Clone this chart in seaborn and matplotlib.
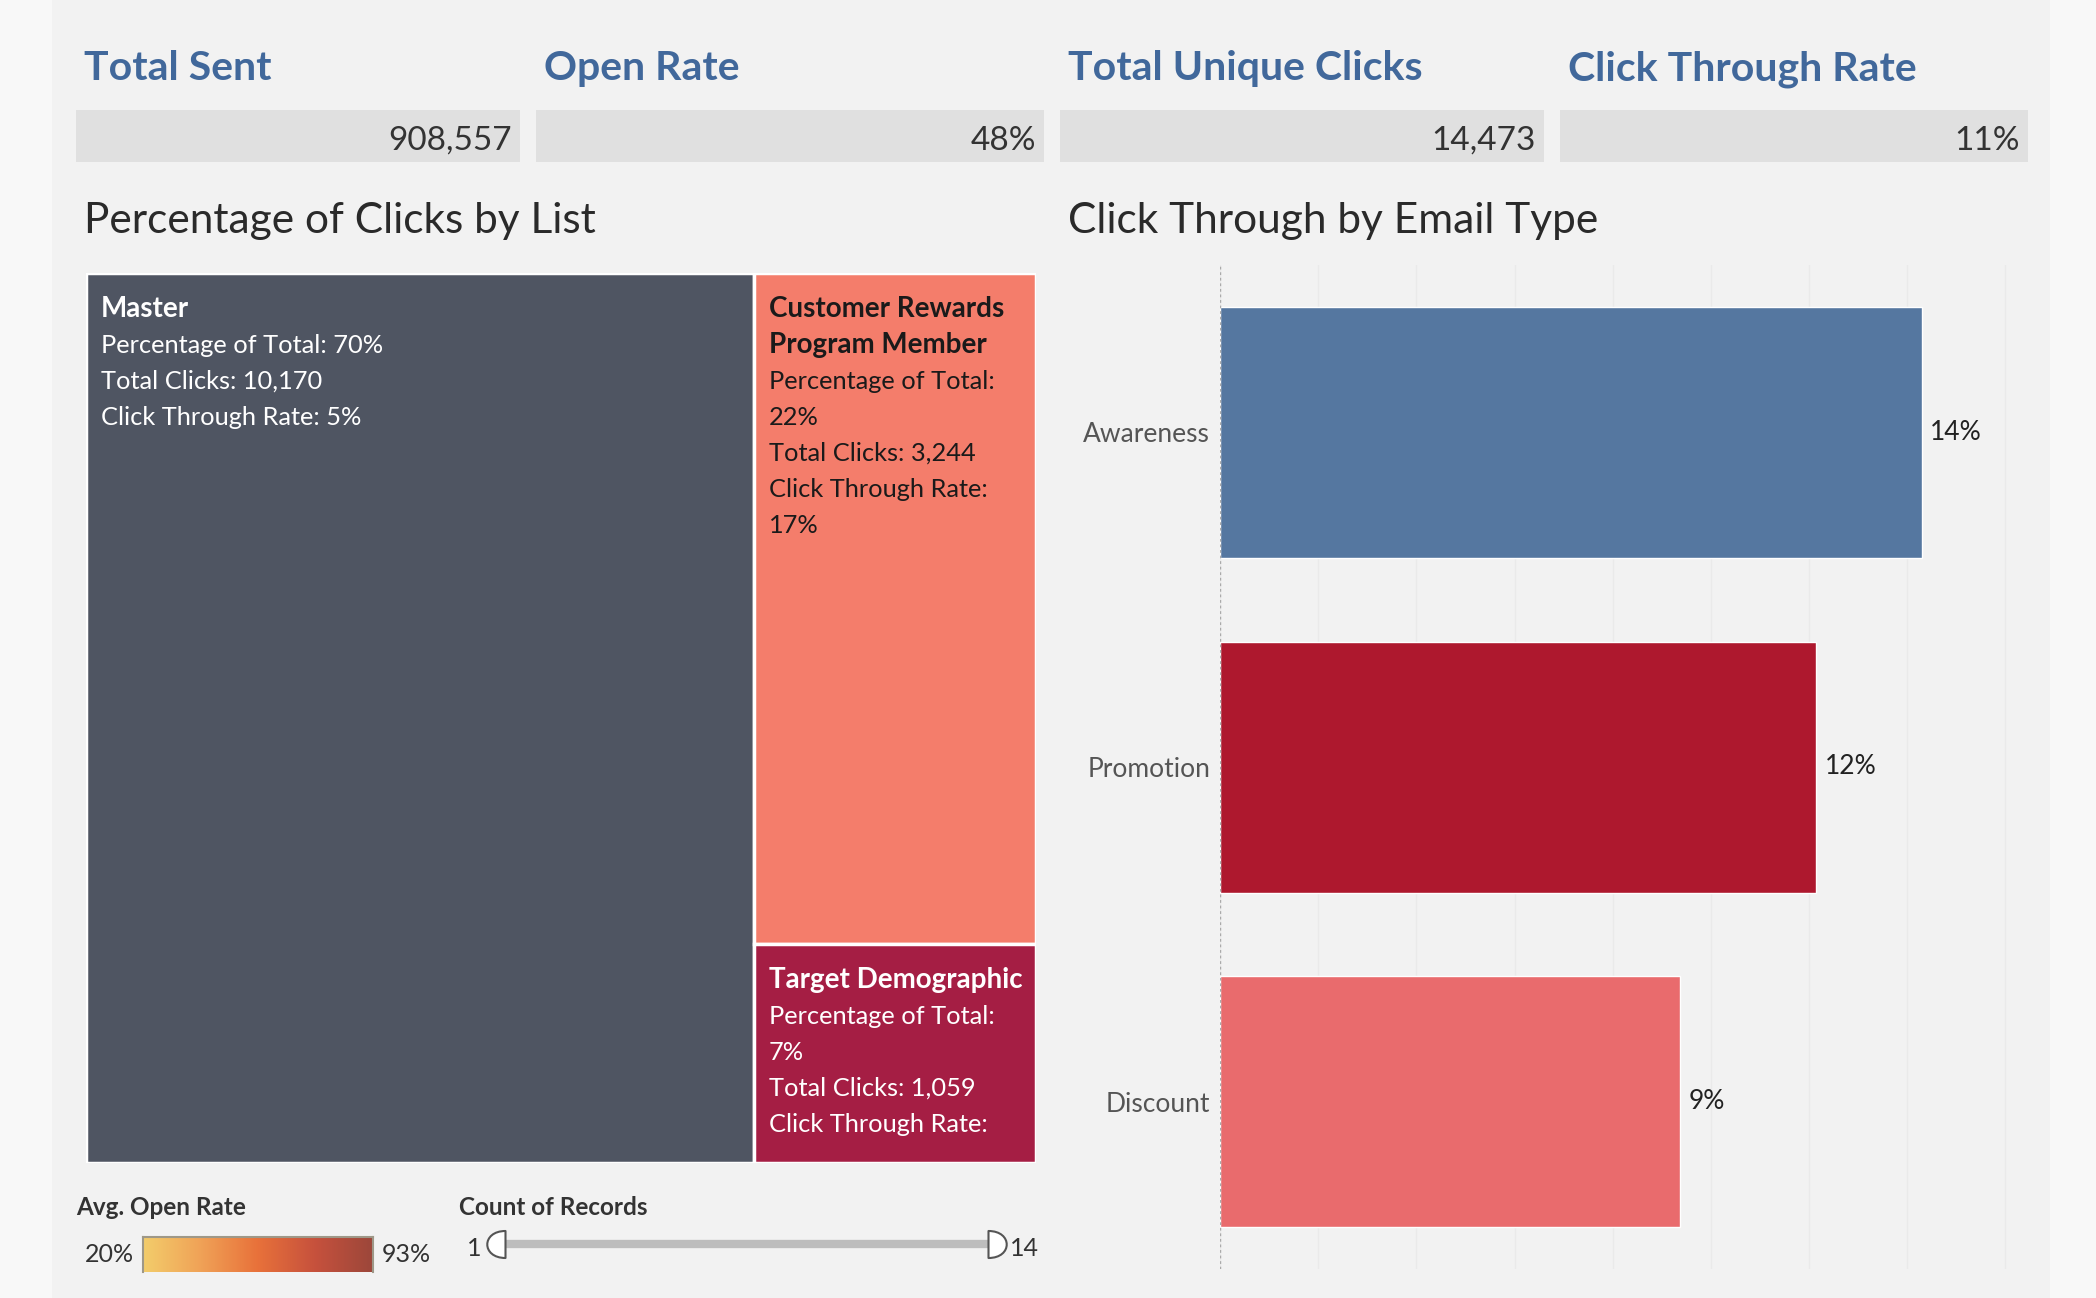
import textwrap
import numpy as np
import pandas as pd
import seaborn as sns
import matplotlib
matplotlib.use('Agg')
from matplotlib import pyplot as plt
from matplotlib.patches import Rectangle
from matplotlib.path import Path
from matplotlib.colors import LinearSegmentedColormap

#%% Data
kpi_titles = ['Total Sent', 'Open Rate', 'Total Unique Clicks', 'Click Through Rate']
kpi_values = ['908,557', '48%', '14,473', '11%']

list_names = ['Master', 'Customer Rewards Program Member', 'Target Demographic']
list_clicks = [10170, 3244, 1059]
list_pct = ['70%', '22%', '7%']
list_ctr = ['5%', '17%', '']
list_colors = ['#4f5562', '#f47d6b', '#a51e44']
list_text_colors = ['white', '#1a1a1a', 'white']

email_types = ['Awareness', 'Promotion', 'Discount']
email_ctr = [0.143, 0.1215, 0.0938]
email_labels = ['14%', '12%', '9%']
email_colors = ['#5577a0', '#ae182e', '#e96b6d']

open_rate_range = ['20%', '93%']
open_rate_colors = ['#f3cd6b', '#f0a257', '#e8713a', '#c6513d', '#9c473a']
count_range = [1, 14]

#%% Figure setup
sns.set_theme(style='white')
plt.rcParams['font.family'] = ['Lato', 'DejaVu Sans']

W, H = 2096, 1298
fig = plt.figure(figsize=(W / 100, H / 100), dpi=100)
fig.patch.set_facecolor('#f8f8f8')
fig.add_artist(Rectangle((52 / W, 0), (2050 - 52) / W, 1, transform=fig.transFigure,
                         facecolor='#f2f2f2', edgecolor='none', zorder=-1))


def add_ax(x0, y0, x1, y1):
    # pixel box (top-left origin) -> figure axes
    a = fig.add_axes([x0 / W, 1 - y1 / H, (x1 - x0) / W, (y1 - y0) / H])
    a.set_facecolor('none')
    return a


def ftext(x, y, s, **kw):
    return fig.text(x / W, 1 - y / H, s, va='baseline', **kw)


#%% KPI header
boxes = [(76, 520), (536, 1044), (1060, 1544), (1560, 2028)]
for (x0, x1), title, val in zip(boxes, kpi_titles, kpi_values):
    fig.add_artist(Rectangle((x0 / W, 1 - 162 / H), (x1 - x0) / W, 52 / H,
                             transform=fig.transFigure, facecolor='#e0e0e0',
                             edgecolor='none', zorder=-0.5))
    ftext(x0 + 8, 80, title, fontsize=29.5, fontweight='bold', color='#41689b')
    ftext(x1 - 8, 150, val, fontsize=24, color='#333333', ha='right')

ftext(84, 233, 'Percentage of Clicks by List', fontsize=30.5, color='#2a2a2a')
ftext(1068, 233, 'Click Through by Email Type', fontsize=30.5, color='#2a2a2a')

#%% Treemap
ax_tree = add_ax(86, 273, 1036, 1163)
ax_tree.set_xlim(0, 1)
ax_tree.set_ylim(1, 0)
ax_tree.axis('off')

total = sum(list_clicks)
w0 = list_clicks[0] / total
h1 = list_clicks[1] / (total - list_clicks[0])
tiles = [(0, 0, w0, 1), (w0, 0, 1 - w0, h1), (w0, h1, 1 - w0, 1 - h1)]

for i, (x, y, w, h) in enumerate(tiles):
    ax_tree.add_patch(Rectangle((x, y), w, h, facecolor=list_colors[i],
                                edgecolor='white', lw=2.5))
    if w > 0.5:
        names = [list_names[i]]
        body = [f'Percentage of Total: {list_pct[i]}',
                f'Total Clicks: {list_clicks[i]:,}',
                f'Click Through Rate: {list_ctr[i]}']
    else:
        names = textwrap.wrap(list_names[i], 18)
        body = ['Percentage of Total:', list_pct[i],
                f'Total Clicks: {list_clicks[i]:,}',
                'Click Through Rate:', list_ctr[i]]
    for k, line in enumerate(names + body):
        is_name = k < len(names)
        ax_tree.annotate(line, (x, y), xytext=(15, -44 - 36 * k),
                         textcoords='offset pixels', va='baseline', ha='left',
                         fontsize=20 if is_name else 18.3, color=list_text_colors[i],
                         fontweight='bold' if is_name else 'normal')

#%% Bar chart
ax_bar = add_ax(1220, 265, 2030, 1269)
df = pd.DataFrame({'type': email_types, 'ctr': email_ctr})
sns.barplot(data=df, x='ctr', y='type', hue='type', palette=email_colors,
            width=0.75, saturation=1, legend=False, ax=ax_bar)
ax_bar.set_xlim(0, 0.165)
ax_bar.set_xticks(np.arange(0, 0.161, 0.02))
ax_bar.grid(axis='x', color='#eaeaea', lw=1)
ax_bar.set_axisbelow(True)
ax_bar.axvline(0, color='#aaaaaa', ls=(0, (2, 2)), lw=1, zorder=1.5)
ax_bar.tick_params(axis='x', labelbottom=False, length=0)
ax_bar.tick_params(axis='y', length=0, pad=7, labelsize=19, labelcolor='#555555')
ax_bar.set_xlabel('')
ax_bar.set_ylabel('')
sns.despine(ax=ax_bar, left=True, bottom=True)
for cont, lab in zip(ax_bar.containers, email_labels):
    ax_bar.bar_label(cont, labels=[lab], padding=6, fontsize=19, color='#222222')

#%% Legends
ftext(76, 1215, 'Avg. Open Rate', fontsize=17.5, fontweight='bold', color='#333333')
ax_grad = add_ax(143, 1237, 373, 1272)
cmap = LinearSegmentedColormap.from_list('open_rate', open_rate_colors)
ax_grad.imshow(np.linspace(0, 1, 256)[None, :], aspect='auto', cmap=cmap, extent=[0, 1, 0, 1])
ax_grad.set_xticks([])
ax_grad.set_yticks([])
for side in ['top', 'left', 'right']:
    ax_grad.spines[side].set_color('#9e9888')
    ax_grad.spines[side].set_linewidth(1.5)
ax_grad.spines['bottom'].set_visible(False)
ftext(134, 1262, open_rate_range[0], fontsize=18, color='#333333', ha='right')
ftext(382, 1262, open_rate_range[1], fontsize=18, color='#333333')

ftext(459, 1215, 'Count of Records', fontsize=17.5, fontweight='bold', color='#333333')
ax_sl = add_ax(505, 1225, 988, 1262)
ax_sl.set_xlim(count_range[0], count_range[1])
ax_sl.set_ylim(-1, 1)
ax_sl.axis('off')
ax_sl.plot(count_range, [0, 0], color='#bdbdbd', lw=6, solid_capstyle='butt')
# slider handle: flat side on the track end, rounded side outward
d_right = Path([(0, -1), (0, 1), (1.8, 1), (1.8, -1), (0, -1), (0, -1)],
               [Path.MOVETO, Path.LINETO, Path.CURVE4, Path.CURVE4, Path.CURVE4, Path.CLOSEPOLY])
d_left = Path(d_right.vertices * [-1, 1], d_right.codes)
for v, mk in zip(count_range, [d_left, d_right]):
    ax_sl.plot([v], [0], marker=mk, ms=35, mfc='white', mec='#555555', mew=1.5,
               clip_on=False, zorder=3)
ax_sl.annotate(str(count_range[0]), (count_range[0], 0), xytext=(-24, -12),
               textcoords='offset pixels', ha='right', va='baseline',
               fontsize=18, color='#333333', annotation_clip=False)
ax_sl.annotate(str(count_range[1]), (count_range[1], 0), xytext=(22, -12),
               textcoords='offset pixels', ha='left', va='baseline',
               fontsize=18, color='#333333', annotation_clip=False)

fig.savefig('out.png', dpi=100, facecolor=fig.get_facecolor())
